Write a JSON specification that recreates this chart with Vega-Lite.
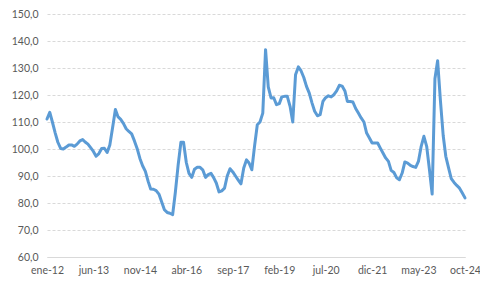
{
  "$schema": "https://vega.github.io/schema/vega-lite/v6.json",
  "width": 418,
  "height": 243,
  "autosize": "none",
  "padding": {"left": 47, "top": 14, "right": 15, "bottom": 31},
  "background": "white",
  "config": {
    "view": {"stroke": null},
    "font": "Lato",
    "axis": {"labelFont": "Lato", "labelFontSize": 10.5, "labelColor": "#595959"}
  },
  "data": {
    "values": [
      {"fecha": "2012-01-01", "valor": 111.1}, {"fecha": "2012-02-01", "valor": 113.6}, {"fecha": "2012-03-01", "valor": 110}, {"fecha": "2012-04-01", "valor": 106}, {"fecha": "2012-05-01", "valor": 102.5}, {"fecha": "2012-06-01", "valor": 100.2}, {"fecha": "2012-07-01", "valor": 100}, {"fecha": "2012-08-01", "valor": 100.7}, {"fecha": "2012-09-01", "valor": 101.5}, {"fecha": "2012-10-01", "valor": 101.5}, {"fecha": "2012-11-01", "valor": 101}, {"fecha": "2012-12-01", "valor": 101.8},
      {"fecha": "2013-01-01", "valor": 103}, {"fecha": "2013-02-01", "valor": 103.5}, {"fecha": "2013-03-01", "valor": 102.6}, {"fecha": "2013-04-01", "valor": 101.8}, {"fecha": "2013-05-01", "valor": 100.5}, {"fecha": "2013-06-01", "valor": 99.1}, {"fecha": "2013-07-01", "valor": 97.3}, {"fecha": "2013-08-01", "valor": 98.3}, {"fecha": "2013-09-01", "valor": 100.2}, {"fecha": "2013-10-01", "valor": 100.3}, {"fecha": "2013-11-01", "valor": 98.7}, {"fecha": "2013-12-01", "valor": 101.5},
      {"fecha": "2014-01-01", "valor": 108}, {"fecha": "2014-02-01", "valor": 114.6}, {"fecha": "2014-03-01", "valor": 112}, {"fecha": "2014-04-01", "valor": 111}, {"fecha": "2014-05-01", "valor": 109.5}, {"fecha": "2014-06-01", "valor": 107.5}, {"fecha": "2014-07-01", "valor": 106.5}, {"fecha": "2014-08-01", "valor": 105.6}, {"fecha": "2014-09-01", "valor": 103}, {"fecha": "2014-10-01", "valor": 100.2}, {"fecha": "2014-11-01", "valor": 96.5}, {"fecha": "2014-12-01", "valor": 93.8},
      {"fecha": "2015-01-01", "valor": 91.7}, {"fecha": "2015-02-01", "valor": 88}, {"fecha": "2015-03-01", "valor": 85.2}, {"fecha": "2015-04-01", "valor": 85.1}, {"fecha": "2015-05-01", "valor": 84.6}, {"fecha": "2015-06-01", "valor": 83.3}, {"fecha": "2015-07-01", "valor": 80.5}, {"fecha": "2015-08-01", "valor": 77.5}, {"fecha": "2015-09-01", "valor": 76.5}, {"fecha": "2015-10-01", "valor": 76.2}, {"fecha": "2015-11-01", "valor": 75.7}, {"fecha": "2015-12-01", "valor": 84},
      {"fecha": "2016-01-01", "valor": 94}, {"fecha": "2016-02-01", "valor": 102.5}, {"fecha": "2016-03-01", "valor": 102.5}, {"fecha": "2016-04-01", "valor": 95}, {"fecha": "2016-05-01", "valor": 91}, {"fecha": "2016-06-01", "valor": 89.5}, {"fecha": "2016-07-01", "valor": 92.5}, {"fecha": "2016-08-01", "valor": 93.2}, {"fecha": "2016-09-01", "valor": 93.2}, {"fecha": "2016-10-01", "valor": 92.3}, {"fecha": "2016-11-01", "valor": 89.5}, {"fecha": "2016-12-01", "valor": 90.5},
      {"fecha": "2017-01-01", "valor": 91}, {"fecha": "2017-02-01", "valor": 89.3}, {"fecha": "2017-03-01", "valor": 87.4}, {"fecha": "2017-04-01", "valor": 84.1}, {"fecha": "2017-05-01", "valor": 84.5}, {"fecha": "2017-06-01", "valor": 85.5}, {"fecha": "2017-07-01", "valor": 90}, {"fecha": "2017-08-01", "valor": 92.7}, {"fecha": "2017-09-01", "valor": 91.5}, {"fecha": "2017-10-01", "valor": 90}, {"fecha": "2017-11-01", "valor": 88.5}, {"fecha": "2017-12-01", "valor": 87.1},
      {"fecha": "2018-01-01", "valor": 93}, {"fecha": "2018-02-01", "valor": 96}, {"fecha": "2018-03-01", "valor": 94.8}, {"fecha": "2018-04-01", "valor": 92.3}, {"fecha": "2018-05-01", "valor": 101}, {"fecha": "2018-06-01", "valor": 109}, {"fecha": "2018-07-01", "valor": 110}, {"fecha": "2018-08-01", "valor": 113.3}, {"fecha": "2018-09-01", "valor": 136.8}, {"fecha": "2018-10-01", "valor": 123}, {"fecha": "2018-11-01", "valor": 118.9}, {"fecha": "2018-12-01", "valor": 119},
      {"fecha": "2019-01-01", "valor": 116.4}, {"fecha": "2019-02-01", "valor": 116.8}, {"fecha": "2019-03-01", "valor": 119.3}, {"fecha": "2019-04-01", "valor": 119.5}, {"fecha": "2019-05-01", "valor": 119.5}, {"fecha": "2019-06-01", "valor": 115.8}, {"fecha": "2019-07-01", "valor": 110}, {"fecha": "2019-08-01", "valor": 127.5}, {"fecha": "2019-09-01", "valor": 130.4}, {"fecha": "2019-10-01", "valor": 129}, {"fecha": "2019-11-01", "valor": 126.5}, {"fecha": "2019-12-01", "valor": 123.2},
      {"fecha": "2020-01-01", "valor": 120.7}, {"fecha": "2020-02-01", "valor": 117}, {"fecha": "2020-03-01", "valor": 114}, {"fecha": "2020-04-01", "valor": 112.3}, {"fecha": "2020-05-01", "valor": 112.7}, {"fecha": "2020-06-01", "valor": 117.6}, {"fecha": "2020-07-01", "valor": 119}, {"fecha": "2020-08-01", "valor": 119.7}, {"fecha": "2020-09-01", "valor": 119.3}, {"fecha": "2020-10-01", "valor": 120.1}, {"fecha": "2020-11-01", "valor": 121.5}, {"fecha": "2020-12-01", "valor": 123.6},
      {"fecha": "2021-01-01", "valor": 123.3}, {"fecha": "2021-02-01", "valor": 121.5}, {"fecha": "2021-03-01", "valor": 117.6}, {"fecha": "2021-04-01", "valor": 117.6}, {"fecha": "2021-05-01", "valor": 117.4}, {"fecha": "2021-06-01", "valor": 115}, {"fecha": "2021-07-01", "valor": 113.3}, {"fecha": "2021-08-01", "valor": 111.5}, {"fecha": "2021-09-01", "valor": 110}, {"fecha": "2021-10-01", "valor": 105.9}, {"fecha": "2021-11-01", "valor": 104.1}, {"fecha": "2021-12-01", "valor": 102.2},
      {"fecha": "2022-01-01", "valor": 102.2}, {"fecha": "2022-02-01", "valor": 102.2}, {"fecha": "2022-03-01", "valor": 100.4}, {"fecha": "2022-04-01", "valor": 98.5}, {"fecha": "2022-05-01", "valor": 96.7}, {"fecha": "2022-06-01", "valor": 95.4}, {"fecha": "2022-07-01", "valor": 92.1}, {"fecha": "2022-08-01", "valor": 91.3}, {"fecha": "2022-09-01", "valor": 89.3}, {"fecha": "2022-10-01", "valor": 88.6}, {"fecha": "2022-11-01", "valor": 91.1}, {"fecha": "2022-12-01", "valor": 95.2},
      {"fecha": "2023-01-01", "valor": 94.8}, {"fecha": "2023-02-01", "valor": 93.9}, {"fecha": "2023-03-01", "valor": 93.5}, {"fecha": "2023-04-01", "valor": 93.2}, {"fecha": "2023-05-01", "valor": 95.4}, {"fecha": "2023-06-01", "valor": 101}, {"fecha": "2023-07-01", "valor": 104.7}, {"fecha": "2023-08-01", "valor": 101}, {"fecha": "2023-09-01", "valor": 92.3}, {"fecha": "2023-10-01", "valor": 83.3}, {"fecha": "2023-11-01", "valor": 126}, {"fecha": "2023-12-01", "valor": 132.7},
      {"fecha": "2024-01-01", "valor": 118}, {"fecha": "2024-02-01", "valor": 105}, {"fecha": "2024-03-01", "valor": 97.3}, {"fecha": "2024-04-01", "valor": 93}, {"fecha": "2024-05-01", "valor": 89}, {"fecha": "2024-06-01", "valor": 87.6}, {"fecha": "2024-07-01", "valor": 86.5}, {"fecha": "2024-08-01", "valor": 85.5}, {"fecha": "2024-09-01", "valor": 83.7}, {"fecha": "2024-10-01", "valor": 81.9}
    ]
  },
  "mark": {"type": "line", "color": "#5B9BD5", "strokeWidth": 3, "strokeJoin": "round", "strokeCap": "round"},
  "encoding": {
    "x": {
      "field": "fecha",
      "type": "temporal",
      "title": null,
      "scale": {
        "type": "utc",
        "domain": [
          {"year": 2012, "month": 1, "date": 1, "utc": true},
          {"year": 2024, "month": 10, "date": 1, "utc": true}
        ],
        "nice": false
      },
      "axis": {
        "values": [
          {"year": 2012, "month": 1, "date": 1, "utc": true},
          {"year": 2013, "month": 6, "date": 1, "utc": true},
          {"year": 2014, "month": 11, "date": 1, "utc": true},
          {"year": 2016, "month": 4, "date": 1, "utc": true},
          {"year": 2017, "month": 9, "date": 1, "utc": true},
          {"year": 2019, "month": 2, "date": 1, "utc": true},
          {"year": 2020, "month": 7, "date": 1, "utc": true},
          {"year": 2021, "month": 12, "date": 1, "utc": true},
          {"year": 2023, "month": 5, "date": 1, "utc": true},
          {"year": 2024, "month": 10, "date": 1, "utc": true}
        ],
        "labelExpr": "['ene','feb','mar','abr','may','jun','jul','ago','sep','oct','nov','dic'][utcmonth(datum.value)] + '-' + utcFormat(datum.value, '%y')",
        "grid": false,
        "ticks": false,
        "domain": true,
        "domainColor": "#D9D9D9",
        "domainWidth": 1,
        "labelPadding": 8,
        "labelOverlap": false,
        "labelFlush": false
      }
    },
    "y": {
      "field": "valor",
      "type": "quantitative",
      "title": null,
      "scale": {"domain": [60, 150], "nice": false, "zero": false},
      "axis": {
        "values": [60, 70, 80, 90, 100, 110, 120, 130, 140, 150],
        "labelExpr": "replace(format(datum.value, '.1f'), '.', ',')",
        "grid": true,
        "gridColor": "#D9D9D9",
        "gridDash": [3, 2],
        "gridWidth": 1,
        "domain": false,
        "ticks": false,
        "labelPadding": 9
      }
    }
  }
}
